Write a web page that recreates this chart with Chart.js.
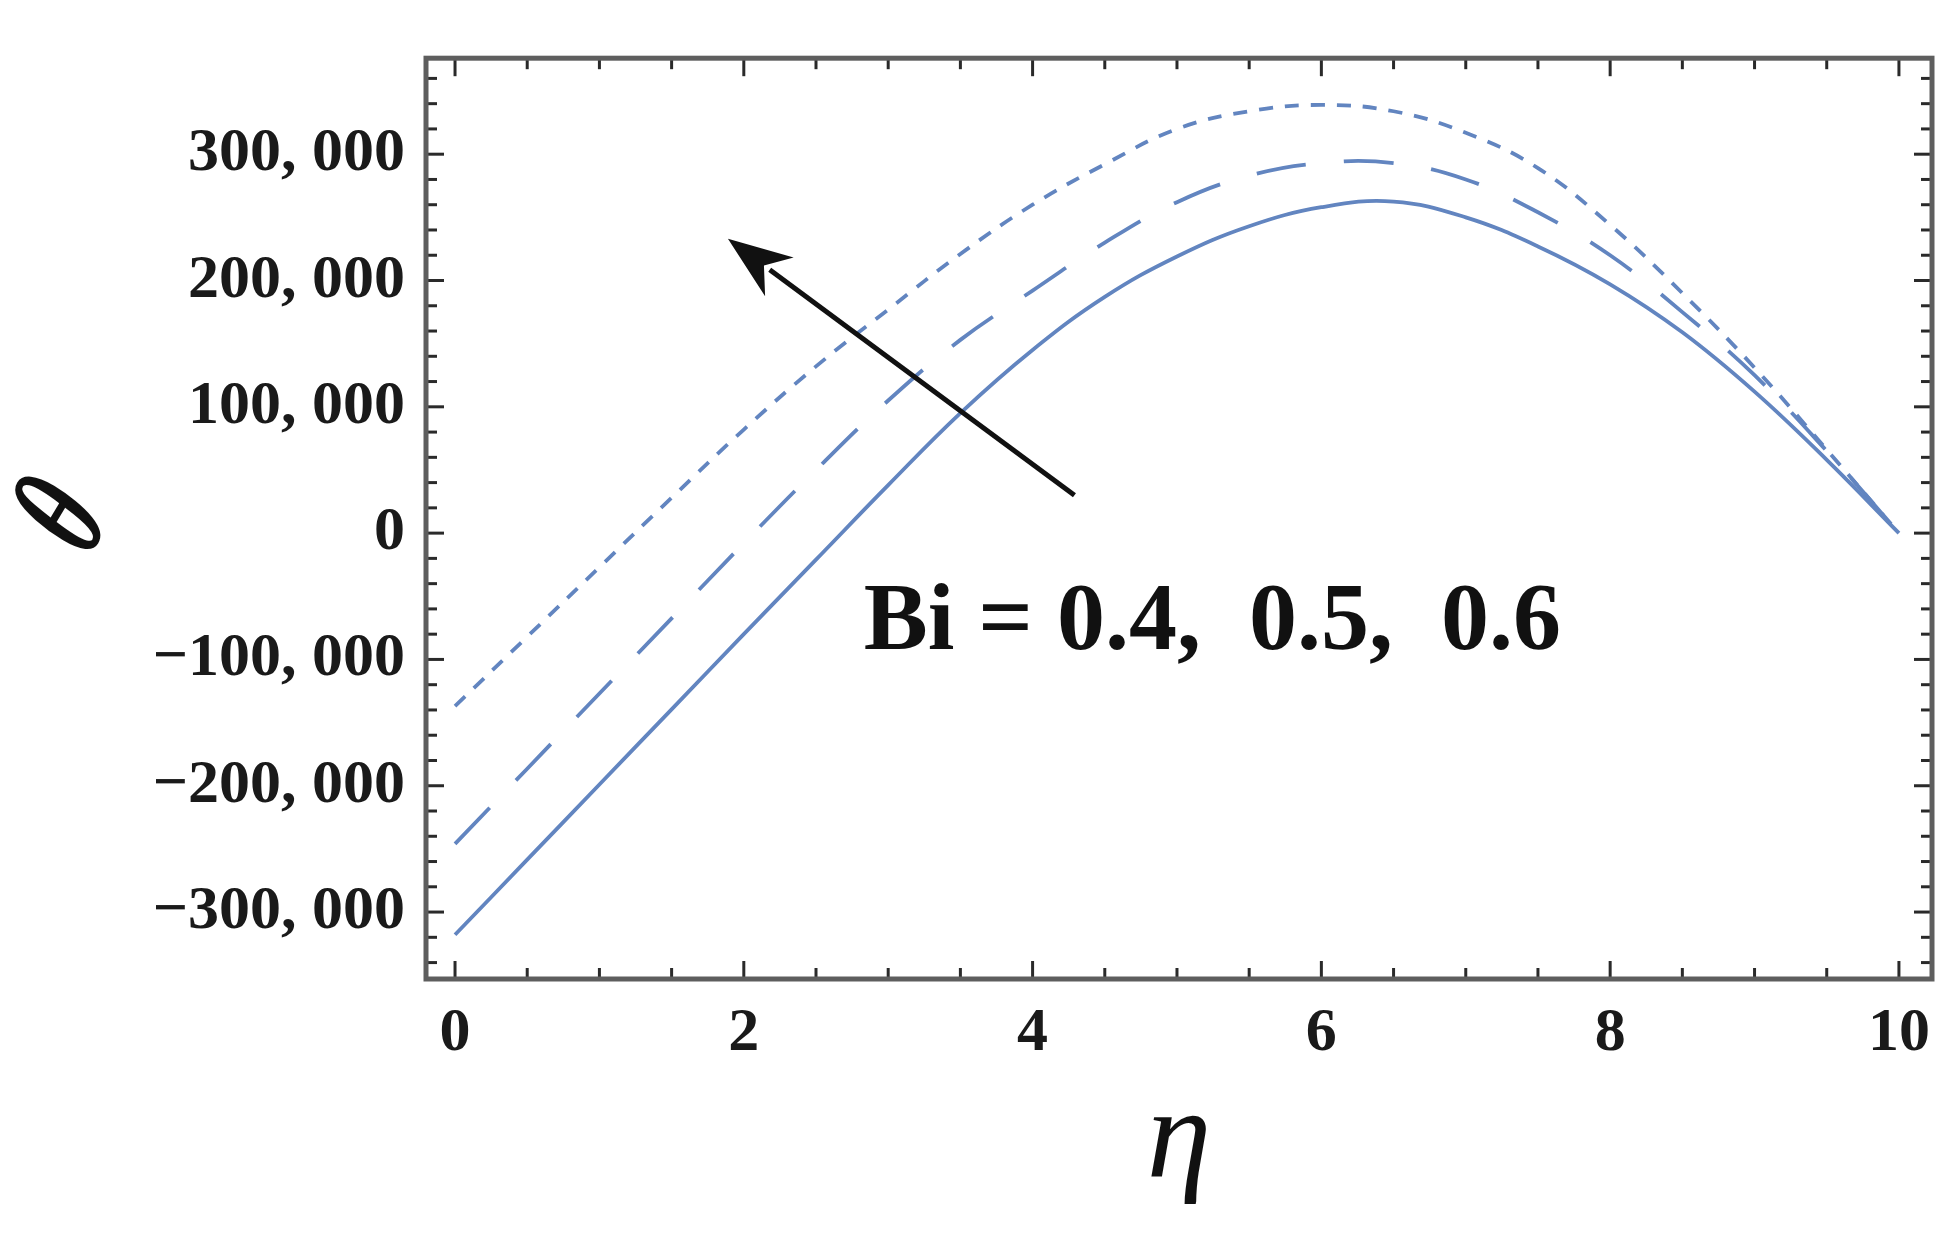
<!DOCTYPE html>
<html>
<head>
<meta charset="utf-8">
<script src="https://cdn.jsdelivr.net/npm/chart.js@4.4.1/dist/chart.umd.min.js"></script>
<style>
  html, body { margin: 0; padding: 0; background: #ffffff; }
  #wrap { width: 1955px; height: 1240px; }
</style>
</head>
<body>
<div id="wrap"><canvas id="c" width="1955" height="1240"></canvas></div>
<script>
// ---------------- data ----------------
const eta = [0, 0.5, 1, 1.5, 2, 2.5, 3, 3.5, 4, 4.5, 5, 5.5, 6, 6.5, 7, 7.5, 8, 8.5, 9, 9.5, 10];
const thetaBi04 = [-318000, -258500, -199000, -139500, -80000, -21000, 38000, 95000, 145000, 187000, 219000, 243000, 258000, 262500, 250000, 227000, 197000, 159000, 112000, 58000, 0];
const thetaBi05 = [-246000, -186500, -127000, -67500, -8000, 50000, 105000, 153000, 192000, 230000, 262000, 283000, 293000, 293000, 280000, 254000, 220000, 175000, 125000, 65000, 0];
const thetaBi06 = [-137000, -82000, -27000, 28000, 82000, 132000, 177000, 221000, 260000, 292000, 320000, 334000, 339000, 334000, 317000, 289000, 244000, 190000, 131000, 66000, 0];
const seriesNames = ['Bi = 0.4', 'Bi = 0.5', 'Bi = 0.6'];

const xTickValues = [0, 2, 4, 6, 8, 10];
const xTickLabels = ['0', '2', '4', '6', '8', '10'];
const xMinorTicks = [0.5, 1, 1.5, 2.5, 3, 3.5, 4.5, 5, 5.5, 6.5, 7, 7.5, 8.5, 9, 9.5];
const yTickValues = [-300000, -200000, -100000, 0, 100000, 200000, 300000];
const yTickLabels = ['\u2212300, 000', '\u2212200, 000', '\u2212100, 000', '0', '100, 000', '200, 000', '300, 000'];
const yMinorTicks = [-340000, -320000, -280000, -260000, -240000, -220000, -180000, -160000, -140000, -120000,
  -80000, -60000, -40000, -20000, 20000, 40000, 60000, 80000, 120000, 140000, 160000, 180000,
  220000, 240000, 260000, 280000, 320000, 340000, 360000];

const xTitle = '\u03b7';
const yTitle = '\u03b8';
const annotationText = 'Bi = 0.4,  0.5,  0.6';
const annotationAnchor = [2.83, -92000];      // (eta, theta) of text start / baseline
const arrowTail = [4.29, 30000];
const arrowTip = [1.89, 233000];

// ---------------- styling ----------------
const lineColor = 'rgb(98, 133, 192)';
const serif = "'Liberation Serif', 'DejaVu Serif', serif";

const framePlugin = {
  id: 'frameTicks',
  afterDatasetsDraw(chart) {
    const { ctx, chartArea: a, scales: { x, y } } = chart;
    ctx.save();
    const seg = (x1, y1, x2, y2) => { ctx.beginPath(); ctx.moveTo(x1, y1); ctx.lineTo(x2, y2); ctx.stroke(); };
    ctx.strokeStyle = '#2a2a2a';
    ctx.lineWidth = 3;
    const xt = (v, len) => { const p = x.getPixelForValue(v); seg(p, a.bottom, p, a.bottom - len); seg(p, a.top, p, a.top + len); };
    const yt = (v, len) => { const p = y.getPixelForValue(v); seg(a.left, p, a.left + len, p); seg(a.right, p, a.right - len, p); };
    xTickValues.forEach(v => xt(v, 18));
    xMinorTicks.forEach(v => xt(v, 11));
    yTickValues.forEach(v => yt(v, 18));
    yMinorTicks.forEach(v => yt(v, 11));
    // frame
    ctx.strokeStyle = '#5e5e5e';
    ctx.lineWidth = 5;
    ctx.strokeRect(a.left, a.top, a.right - a.left, a.bottom - a.top);
    // arrow
    const tx = x.getPixelForValue(arrowTail[0]), ty = y.getPixelForValue(arrowTail[1]);
    const hx = x.getPixelForValue(arrowTip[0]), hy = y.getPixelForValue(arrowTip[1]);
    const ang = Math.atan2(hy - ty, hx - tx);
    const headLen = 64, headHalf = 24;
    const bx = hx - headLen * Math.cos(ang), by = hy - headLen * Math.sin(ang);
    ctx.strokeStyle = '#111';
    ctx.fillStyle = '#111';
    ctx.lineWidth = 5;
    seg(tx, ty, bx + 12 * Math.cos(ang), by + 12 * Math.sin(ang));
    ctx.beginPath();
    ctx.moveTo(hx, hy);
    ctx.lineTo(bx + headHalf * Math.sin(ang), by - headHalf * Math.cos(ang));
    ctx.lineTo(bx + 0.3 * headLen * Math.cos(ang), by + 0.3 * headLen * Math.sin(ang));
    ctx.lineTo(bx - headHalf * Math.sin(ang), by + headHalf * Math.cos(ang));
    ctx.closePath();
    ctx.fill();
    // annotation text
    ctx.fillStyle = '#111';
    ctx.font = "bold 96px " + serif;
    ctx.textAlign = 'left';
    ctx.textBaseline = 'alphabetic';
    ctx.fillText(annotationText, x.getPixelForValue(annotationAnchor[0]), y.getPixelForValue(annotationAnchor[1]));
    // y-axis title (tilted, as in the reference)
    ctx.save();
    ctx.translate(y.left + 68, (a.top + a.bottom) / 2 + 1);
    ctx.rotate(-59 * Math.PI / 180);
    ctx.scale(0.64, 1);
    ctx.font = "italic bold 142px " + serif;
    ctx.textAlign = 'center';
    ctx.textBaseline = 'middle';
    ctx.fillStyle = '#111';
    ctx.fillText(yTitle, 0, 0);
    ctx.restore();
    ctx.restore();
  }
};

const mk = (label, data, dash) => ({
  label, data: eta.map((e, i) => ({ x: e, y: data[i] })),
  borderColor: lineColor, borderWidth: 3.8, borderDash: dash,
  pointRadius: 0, fill: false, tension: 0.4
});

new Chart(document.getElementById('c'), {
  type: 'line',
  data: {
    datasets: [
      mk(seriesNames[0], thetaBi04, []),
      mk(seriesNames[1], thetaBi05, [50, 38]),
      mk(seriesNames[2], thetaBi06, [14, 12])
    ]
  },
  options: {
    responsive: false,
    animation: false,
    devicePixelRatio: 1,
    layout: { padding: { top: 47, right: 23, left: 0, bottom: 0 } },
    plugins: { legend: { display: false }, tooltip: { enabled: false } },
    scales: {
      x: {
        type: 'linear', min: -0.201, max: 10.229,
        afterBuildTicks: s => { s.ticks = xTickValues.map(v => ({ value: v })); },
        afterFit: s => { s.height = 261; },
        grid: { display: false, drawTicks: false },
        border: { display: false },
        ticks: {
          padding: 18, color: '#1a1a1a', maxRotation: 0,
          font: { family: serif, weight: 'bold', size: 62 },
          callback: v => xTickLabels[xTickValues.indexOf(v)]
        },
        title: {
          display: true, text: xTitle, color: '#111',
          font: { family: serif, style: 'italic', size: 130, lineHeight: 1.2 },
          padding: { top: 0, bottom: 20 }
        }
      },
      y: {
        type: 'linear', min: -353000, max: 376000,
        afterBuildTicks: s => { s.ticks = yTickValues.map(v => ({ value: v })); },
        afterFit: s => { s.width = 426; },
        grid: { display: false, drawTicks: false },
        border: { display: false },
        ticks: {
          padding: 21, color: '#1a1a1a',
          font: { family: serif, weight: 'bold', size: 62 },
          callback: v => yTickLabels[yTickValues.indexOf(v)]
        },
        title: { display: false, text: yTitle }
      }
    }
  },
  plugins: [framePlugin]
});
</script>
</body>
</html>
